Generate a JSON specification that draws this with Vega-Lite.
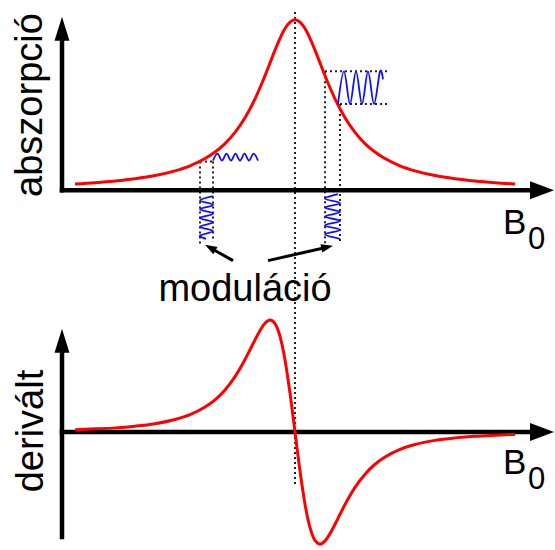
{
  "$schema": "https://vega.github.io/schema/vega-lite/v6.json",
  "width": 555,
  "height": 550,
  "padding": 0,
  "autosize": {"type": "fit", "contains": "padding"},
  "background": "white",
  "config": {"view": {"stroke": null}, "axis": {"disable": true}},
  "datasets": {
    "abs": [
      {"x": 75, "y": 185.7}, {"x": 95, "y": 184.4}, {"x": 115, "y": 182.7}, {"x": 135, "y": 180.4},
      {"x": 155, "y": 177.2}, {"x": 175, "y": 172.4}, {"x": 190, "y": 167.3}, {"x": 205, "y": 160.0},
      {"x": 215, "y": 153.4}, {"x": 225, "y": 144.9}, {"x": 235, "y": 133.6}, {"x": 245, "y": 118.9},
      {"x": 255, "y": 99.8}, {"x": 262, "y": 83.8}, {"x": 269, "y": 66.1}, {"x": 275, "y": 50.6},
      {"x": 280, "y": 38.7}, {"x": 285, "y": 28.8}, {"x": 290, "y": 22.3}, {"x": 295, "y": 20.0},
      {"x": 300, "y": 22.3}, {"x": 305, "y": 28.8}, {"x": 310, "y": 38.7}, {"x": 315, "y": 50.6},
      {"x": 321, "y": 66.1}, {"x": 328, "y": 83.8}, {"x": 335, "y": 99.8}, {"x": 345, "y": 118.9},
      {"x": 355, "y": 133.6}, {"x": 365, "y": 144.9}, {"x": 375, "y": 153.4}, {"x": 385, "y": 160.0},
      {"x": 400, "y": 167.3}, {"x": 415, "y": 172.4}, {"x": 435, "y": 177.2}, {"x": 455, "y": 180.4},
      {"x": 475, "y": 182.7}, {"x": 495, "y": 184.4}, {"x": 515, "y": 185.7}
    ],
    "der": [
      {"x": 75, "y": 433.6}, {"x": 95, "y": 432.8}, {"x": 115, "y": 431.8}, {"x": 135, "y": 430.1},
      {"x": 155, "y": 427.6}, {"x": 175, "y": 423.4}, {"x": 190, "y": 418.5}, {"x": 205, "y": 410.8},
      {"x": 215, "y": 403.5}, {"x": 225, "y": 393.5}, {"x": 235, "y": 380.1}, {"x": 245, "y": 362.8},
      {"x": 250, "y": 353.0}, {"x": 255, "y": 343.0}, {"x": 260, "y": 333.5}, {"x": 265, "y": 326.2},
      {"x": 270, "y": 323.0}, {"x": 275, "y": 326.6}, {"x": 280, "y": 339.5}, {"x": 285, "y": 363.2},
      {"x": 290, "y": 396.6}, {"x": 295, "y": 436.0}, {"x": 300, "y": 475.4}, {"x": 305, "y": 508.8},
      {"x": 310, "y": 532.5}, {"x": 315, "y": 545.4}, {"x": 320, "y": 549.0}, {"x": 325, "y": 545.8},
      {"x": 330, "y": 538.5}, {"x": 335, "y": 529.0}, {"x": 340, "y": 519.0}, {"x": 345, "y": 509.2},
      {"x": 355, "y": 491.9}, {"x": 365, "y": 478.5}, {"x": 375, "y": 468.5}, {"x": 385, "y": 461.2},
      {"x": 400, "y": 453.5}, {"x": 415, "y": 448.6}, {"x": 435, "y": 444.4}, {"x": 455, "y": 441.9},
      {"x": 475, "y": 440.2}, {"x": 495, "y": 439.2}, {"x": 515, "y": 438.4}
    ],
    "axes": [
      {"x": 62, "y": 192, "x2": 62, "y2": 40},
      {"x": 62, "y": 192, "x2": 532, "y2": 192},
      {"x": 62, "y": 542, "x2": 62, "y2": 355},
      {"x": 62, "y": 436, "x2": 532, "y2": 436}
    ],
    "uparrows": [{"x": 62, "y": 29}, {"x": 62, "y": 344}],
    "rightarrows": [{"x": 542, "y": 192}, {"x": 542, "y": 436}],
    "dotted": [
      {"x": 295, "y": 12, "x2": 295, "y2": 490},
      {"x": 200, "y": 163, "x2": 200, "y2": 246},
      {"x": 213, "y": 163, "x2": 213, "y2": 244},
      {"x": 200, "y": 163, "x2": 213, "y2": 163},
      {"x": 325, "y": 72, "x2": 325, "y2": 246},
      {"x": 340, "y": 105, "x2": 340, "y2": 246},
      {"x": 325, "y": 72, "x2": 390, "y2": 72},
      {"x": 340, "y": 105, "x2": 390, "y2": 105}
    ],
    "waves": [
      {"w": "lh", "i": 0, "x": 213, "y": 162}, {"w": "lh", "i": 1, "x": 217.5, "y": 155},
      {"w": "lh", "i": 2, "x": 222, "y": 162}, {"w": "lh", "i": 3, "x": 226.5, "y": 155},
      {"w": "lh", "i": 4, "x": 231, "y": 162}, {"w": "lh", "i": 5, "x": 235.5, "y": 155},
      {"w": "lh", "i": 6, "x": 240, "y": 162}, {"w": "lh", "i": 7, "x": 244.5, "y": 155},
      {"w": "lh", "i": 8, "x": 249, "y": 162}, {"w": "lh", "i": 9, "x": 253.5, "y": 155},
      {"w": "lh", "i": 10, "x": 258, "y": 162},
      {"w": "lv", "i": 0, "x": 213, "y": 198}, {"w": "lv", "i": 1, "x": 200, "y": 202.4},
      {"w": "lv", "i": 2, "x": 213, "y": 206.8}, {"w": "lv", "i": 3, "x": 200, "y": 211.2},
      {"w": "lv", "i": 4, "x": 213, "y": 215.6}, {"w": "lv", "i": 5, "x": 200, "y": 220},
      {"w": "lv", "i": 6, "x": 213, "y": 224.4}, {"w": "lv", "i": 7, "x": 200, "y": 228.8},
      {"w": "lv", "i": 8, "x": 213, "y": 233.2}, {"w": "lv", "i": 9, "x": 200, "y": 237.6},
      {"w": "lv", "i": 10, "x": 206, "y": 241},
      {"w": "rv", "i": 0, "x": 338, "y": 196}, {"w": "rv", "i": 1, "x": 325, "y": 200.5},
      {"w": "rv", "i": 2, "x": 340, "y": 205}, {"w": "rv", "i": 3, "x": 325, "y": 209.5},
      {"w": "rv", "i": 4, "x": 340, "y": 214}, {"w": "rv", "i": 5, "x": 325, "y": 218.5},
      {"w": "rv", "i": 6, "x": 340, "y": 223}, {"w": "rv", "i": 7, "x": 325, "y": 227.5},
      {"w": "rv", "i": 8, "x": 340, "y": 232}, {"w": "rv", "i": 9, "x": 325, "y": 236.5},
      {"w": "rv", "i": 10, "x": 340, "y": 241},
      {"w": "rh", "i": 0, "x": 338, "y": 105}, {"w": "rh", "i": 1, "x": 344, "y": 72},
      {"w": "rh", "i": 2, "x": 350, "y": 105}, {"w": "rh", "i": 3, "x": 356, "y": 72},
      {"w": "rh", "i": 4, "x": 362, "y": 105}, {"w": "rh", "i": 5, "x": 368, "y": 72},
      {"w": "rh", "i": 6, "x": 374, "y": 105}, {"w": "rh", "i": 7, "x": 380, "y": 72},
      {"w": "rh", "i": 8, "x": 383, "y": 80}
    ],
    "pointers": [
      {"x": 233, "y": 263, "x2": 211, "y2": 250.5},
      {"x": 268, "y": 263, "x2": 327, "y2": 249.5}
    ]
  },
  "layer": [
    {
      "data": {"name": "dotted"},
      "mark": {"type": "rule", "color": "#222222", "strokeWidth": 2, "strokeDash": [2, 3]},
      "encoding": {
        "x": {"field": "x", "type": "quantitative", "scale": {"domain": [0, 555], "nice": false, "zero": false}},
        "y": {"field": "y", "type": "quantitative", "scale": {"domain": [0, 550], "nice": false, "zero": false, "reverse": true}},
        "x2": {"field": "x2"},
        "y2": {"field": "y2"}
      }
    },
    {
      "data": {"name": "axes"},
      "mark": {"type": "rule", "color": "black", "strokeWidth": 4.5, "strokeCap": "square"},
      "encoding": {
        "x": {"field": "x", "type": "quantitative"},
        "y": {"field": "y", "type": "quantitative"},
        "x2": {"field": "x2"},
        "y2": {"field": "y2"}
      }
    },
    {
      "data": {"name": "uparrows"},
      "mark": {"type": "point", "shape": "M0,-1L-0.62,1L0.62,1Z", "size": 576, "filled": true, "color": "black", "opacity": 1},
      "encoding": {
        "x": {"field": "x", "type": "quantitative"},
        "y": {"field": "y", "type": "quantitative"}
      }
    },
    {
      "data": {"name": "rightarrows"},
      "mark": {"type": "point", "shape": "M1,0L-1,-0.75L-1,0.75Z", "size": 576, "filled": true, "color": "black", "opacity": 1},
      "encoding": {
        "x": {"field": "x", "type": "quantitative"},
        "y": {"field": "y", "type": "quantitative"}
      }
    },
    {
      "data": {"name": "abs"},
      "mark": {"type": "line", "color": "#ff0000", "strokeWidth": 3, "interpolate": "monotone"},
      "encoding": {
        "x": {"field": "x", "type": "quantitative"},
        "y": {"field": "y", "type": "quantitative"}
      }
    },
    {
      "data": {"name": "der"},
      "mark": {"type": "line", "color": "#ff0000", "strokeWidth": 3, "interpolate": "monotone", "clip": false},
      "encoding": {
        "x": {"field": "x", "type": "quantitative"},
        "y": {"field": "y", "type": "quantitative"}
      }
    },
    {
      "data": {"name": "waves"},
      "mark": {"type": "line", "color": "#1010ff", "strokeWidth": 1.8, "interpolate": "cardinal"},
      "encoding": {
        "x": {"field": "x", "type": "quantitative"},
        "y": {"field": "y", "type": "quantitative"},
        "detail": {"field": "w", "type": "nominal"},
        "order": {"field": "i", "type": "quantitative"}
      }
    },
    {
      "data": {"name": "pointers"},
      "mark": {"type": "rule", "color": "black", "strokeWidth": 3},
      "encoding": {
        "x": {"field": "x", "type": "quantitative"},
        "y": {"field": "y", "type": "quantitative"},
        "x2": {"field": "x2"},
        "y2": {"field": "y2"}
      }
    },
    {
      "data": {"values": [{"x": 210.2, "y": 250}]},
      "mark": {"type": "point", "shape": "M0,-1L-0.7,1L0.7,1Z", "size": 144, "filled": true, "color": "black", "opacity": 1, "angle": 300},
      "encoding": {
        "x": {"field": "x", "type": "quantitative"},
        "y": {"field": "y", "type": "quantitative"}
      }
    },
    {
      "data": {"values": [{"x": 327.2, "y": 249.3}]},
      "mark": {"type": "point", "shape": "M0,-1L-0.7,1L0.7,1Z", "size": 144, "filled": true, "color": "black", "opacity": 1, "angle": 77},
      "encoding": {
        "x": {"field": "x", "type": "quantitative"},
        "y": {"field": "y", "type": "quantitative"}
      }
    },
    {
      "data": {"values": [{"x": 245, "y": 304, "t": "moduláció"}]},
      "mark": {"type": "text", "font": "Liberation Sans", "fontSize": 38, "align": "center", "baseline": "alphabetic", "color": "black"},
      "encoding": {
        "x": {"field": "x", "type": "quantitative"},
        "y": {"field": "y", "type": "quantitative"},
        "text": {"field": "t"}
      }
    },
    {
      "data": {"values": [{"x": 42, "y": 106, "t": "abszorpció"}, {"x": 43, "y": 435, "t": "derivált"}]},
      "mark": {"type": "text", "font": "Liberation Sans", "fontSize": 38, "align": "center", "baseline": "alphabetic", "angle": 270, "color": "black"},
      "encoding": {
        "x": {"field": "x", "type": "quantitative"},
        "y": {"field": "y", "type": "quantitative"},
        "text": {"field": "t"}
      }
    },
    {
      "data": {"values": [{"x": 503, "y": 236, "t": "B"}, {"x": 503, "y": 478, "t": "B"}]},
      "mark": {"type": "text", "font": "Liberation Sans", "fontSize": 35, "align": "left", "baseline": "alphabetic", "color": "black"},
      "encoding": {
        "x": {"field": "x", "type": "quantitative"},
        "y": {"field": "y", "type": "quantitative"},
        "text": {"field": "t"}
      }
    },
    {
      "data": {"values": [{"x": 528, "y": 251, "t": "0"}, {"x": 528, "y": 493, "t": "0"}]},
      "mark": {"type": "text", "font": "Liberation Sans", "fontSize": 31, "align": "left", "baseline": "alphabetic", "color": "black"},
      "encoding": {
        "x": {"field": "x", "type": "quantitative"},
        "y": {"field": "y", "type": "quantitative"},
        "text": {"field": "t"}
      }
    }
  ]
}
